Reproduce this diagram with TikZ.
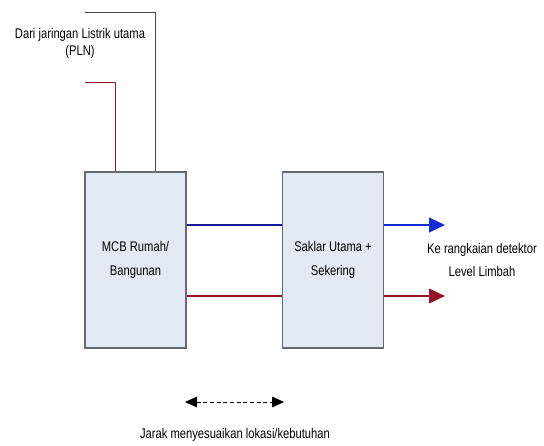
\documentclass[tikz,border=0pt]{standalone}
\usepackage{fontspec}
\newfontfamily\sempit[FakeStretch=0.8]{Liberation Sans}
\usepackage{xcolor}
\definecolor{kotakisi}{RGB}{226,233,243}
\definecolor{kotakgaris}{RGB}{105,105,115}
\definecolor{mybiru}{RGB}{25,25,150}
\definecolor{mybirumuda}{RGB}{20,45,215}
\definecolor{mymerah}{RGB}{150,20,35}
\definecolor{mykabel}{RGB}{70,70,90}
\usetikzlibrary{arrows.meta}

\begin{document}
\begin{tikzpicture}[x=0.75pt,y=-0.75pt,font=\sempit\fontsize{10.5}{12.75}\selectfont]
	\tikzstyle{kotak}=[draw=kotakgaris,fill=kotakisi,line width=1pt,minimum width=75.75pt,minimum height=132pt,align=center,inner sep=0pt];
	\tikzstyle{tulisan}=[align=center,inner sep=0pt];
	\tikzstyle{panah}=[-{Triangle[length=12pt,width=11pt]}];
	\useasboundingbox (0,0) rectangle (544,446);
	%%
	\node[kotak] (mcb)    at (135.5,260) {MCB Rumah/\\[5pt]Bangunan};
	\node[kotak] (saklar) at (333,260)   {Saklar Utama +\\[5pt]Sekering};
	%%
	\coordinate (pln1)  at (85,12);
	\coordinate (belok1) at (155,12);
	\coordinate (pln2)  at (85,82);
	\coordinate (belok2) at (115,82);
	\coordinate (fasa)  at (0,225);
	\coordinate (netral) at (0,296);
	\coordinate (keluar1) at (445,225);
	\coordinate (keluar2) at (445,296);
	\coordinate (jarakA) at (185,402);
	\coordinate (jarakB) at (284,402);
	%%
	\draw[mykabel,line width=0.7pt] (pln1) -- (belok1) -- (belok1 |- mcb.north);
	\draw[mymerah,line width=0.7pt] (pln2) -- (belok2) -- (belok2 |- mcb.north);
	%%
	\draw[mybiru,line width=1.6pt] (mcb.east |- fasa) -- (saklar.west |- fasa);
	\draw[mymerah,line width=1.6pt] (mcb.east |- netral) -- (saklar.west |- netral);
	\draw[mybirumuda,line width=1.6pt,panah] (saklar.east |- fasa) -- (keluar1);
	\draw[mymerah,line width=1.6pt,panah] (saklar.east |- netral) -- (keluar2);
	%%
	\draw[densely dashed,line width=0.6pt,{Triangle[length=9pt,width=8pt]}-{Triangle[length=9pt,width=8pt]}] (jarakA) -- (jarakB);
	%% Nodes
	\node[tulisan] (dari)  at (80,43)   {Dari jaringan Listrik utama\\(PLN)};
	\node[tulisan] (ke)    at (482,260) {Ke rangkaian detektor\\[5pt]Level Limbah};
	\node[tulisan] (jarak) at (235,435) {Jarak menyesuaikan lokasi/kebutuhan};
\end{tikzpicture}
\end{document}
